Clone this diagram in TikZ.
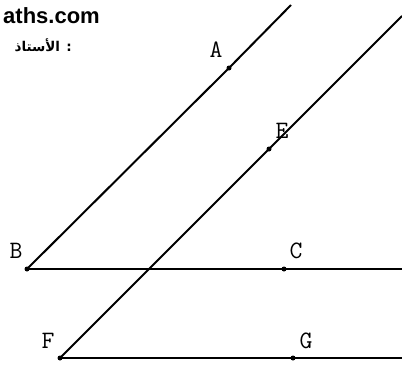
\documentclass[tikz,border=0pt]{standalone}
\usepackage{fontspec}
\TeXXeTstate=1
\newfontfamily\webfont{Liberation Sans}
\newfontfamily\arabicfont[Script=Arabic]{DejaVu Sans}
\usetikzlibrary{positioning}

\begin{document}
\begin{tikzpicture}[x=1pt,y=-1pt,every node/.style={inner sep=0pt},pnt/.style={circle,fill=black,minimum size=5pt},lbl/.style={font=\ttfamily\fontsize{25}{25}\selectfont},ln/.style={line width=2pt}]
\useasboundingbox (0,0) rectangle (402,370);
\node[anchor=base east,font=\webfont\bfseries\fontsize{22}{22}\selectfont] (site) at (100,23) {aths.com};
\node[anchor=east,font=\arabicfont\bfseries\fontsize{13.5}{13.5}\selectfont] (prof) at (72,45) {\beginR : الأستاذ\endR};
\node[pnt] (B) at (27,269) {}; \node[pnt] (C) at (284,269) {};
\node[pnt] (A) at (229,68) {}; \node[pnt] (E) at (269,149) {};
\node[pnt] (F) at (60,358) {}; \node[pnt] (G) at (293,358) {};
\coordinate (ab) at (291,5); \coordinate (fe) at (402,16);
\coordinate (bc) at (402,269); \coordinate (fg) at (402,358);
\node[lbl] (lA) at (216,50) {A}; \node[lbl] (lE) at (282,131) {E};
\node[lbl] (lB) at (16,251) {B}; \node[lbl] (lC) at (296,251) {C};
\node[lbl] (lF) at (48,341) {F}; \node[lbl] (lG) at (306,341) {G};
\draw[ln] (B.center)--(A.center)--(ab); \draw[ln] (B.center)--(C.center)--(bc);
\draw[ln] (F.center)--(E.center)--(fe); \draw[ln] (F.center)--(G.center)--(fg);
\end{tikzpicture}
\end{document}
